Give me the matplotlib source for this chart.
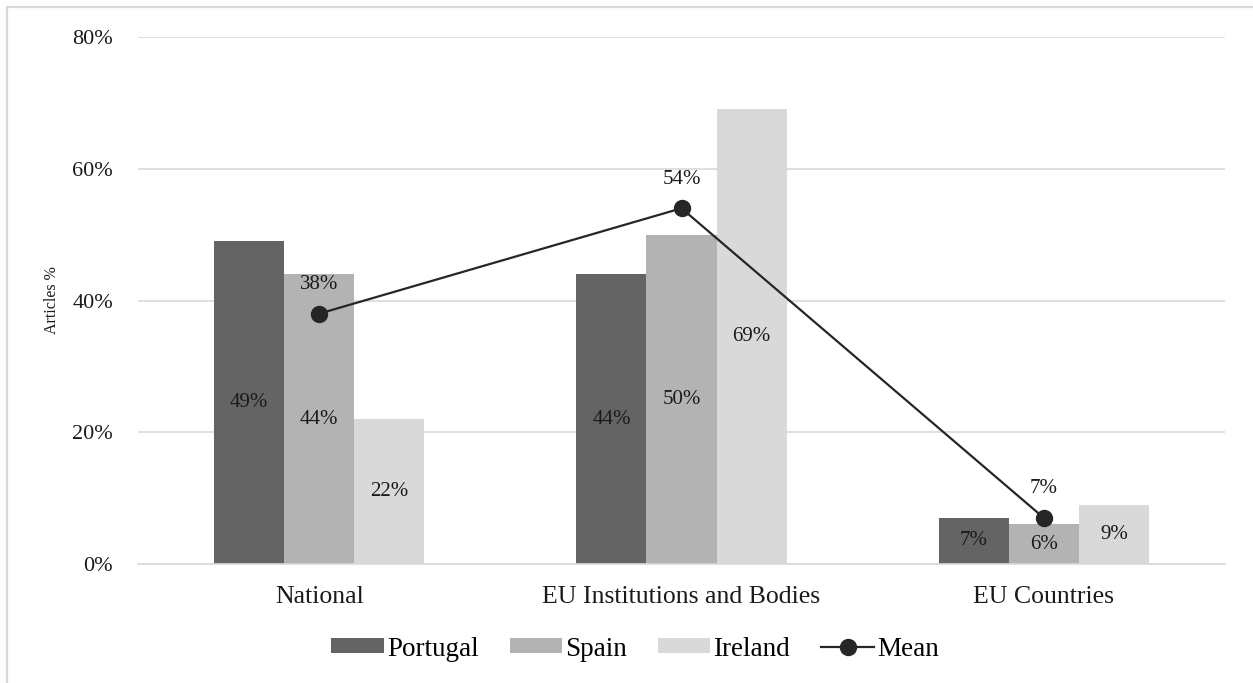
import matplotlib
matplotlib.use("Agg")
import matplotlib.pyplot as plt
from matplotlib.lines import Line2D
import numpy as np

categories = ["National", "EU Institutions and Bodies", "EU Countries"]
portugal = [49, 44, 7]
spain = [44, 50, 6]
ireland = [22, 69, 9]
mean = [38, 54, 7]
series_names = ["Portugal", "Spain", "Ireland", "Mean"]
yticks = [0, 20, 40, 60, 80]

plt.rcParams['font.family'] = ['Liberation Serif', 'DejaVu Serif']

fig = plt.figure(figsize=(12.53, 6.83), dpi=100)
ax = fig.add_axes([138/1253, 1-564/683, (1225-138)/1253, (564-37)/683])

x = np.arange(len(categories))
w = 70/362.3
colors = ["#646464", "#b3b3b3", "#d9d9d9"]
bar_handles = []
for i, (vals, c, name) in enumerate(zip([portugal, spain, ireland], colors, series_names[:3])):
    b = ax.bar(x + (i-1)*w, vals, w, color=c, label=name, zorder=2)
    bar_handles.append(b)
    for xi, v in zip(x + (i-1)*w, vals):
        ax.text(xi, v/2, f"{v}%", ha='center', va='center', fontsize=15, color='#1a1a1a', zorder=4)

line, = ax.plot(x, mean, color='#262626', lw=1.6, marker='o', markersize=11.5, label=series_names[3], zorder=5)
for xi, v in zip(x, mean):
    ax.annotate(f"{v}%", (xi, v), xytext=(0, 14), textcoords='offset points', ha='center', va='bottom',
                fontsize=15, color='#1a1a1a')

ax.set_xlim(-0.5, 2.5)
ax.set_ylim(0, 80)
ax.set_yticks(yticks)
ax.set_yticklabels([f"{t}%" for t in yticks])
ax.set_xticks(x)
ax.set_xticklabels(categories)
ax.tick_params(axis='both', length=0, colors='#1a1a1a')
ax.tick_params(axis='y', pad=18, labelsize=16)
ax.tick_params(axis='x', pad=16, labelsize=18.5)
ax.grid(axis='y', color='#d9d9d9', lw=1.2, zorder=0)
ax.set_axisbelow(True)
for s in ['top', 'right', 'left']:
    ax.spines[s].set_visible(False)
ax.spines['bottom'].set_color('#d9d9d9')
ax.spines['bottom'].set_linewidth(1.2)
ax.set_ylabel("Articles %", fontsize=11.5, color='#1a1a1a', labelpad=9)

handles = bar_handles + [line]
fig.legend(handles, series_names, loc='center', bbox_to_anchor=(635/1253, 1-649/683), ncol=4,
           frameon=False, fontsize=19.5, handlelength=1.93, handleheight=0.48, columnspacing=1.15,
           handletextpad=0.12)

# outer border (light gray) at left and top
fig.add_artist(Line2D([7/1253, 7/1253, 1.0], [0, 1-7/683, 1-7/683], transform=fig.transFigure,
                      color='#d9d9d9', lw=1.6))

fig.savefig("out.png", dpi=100)
